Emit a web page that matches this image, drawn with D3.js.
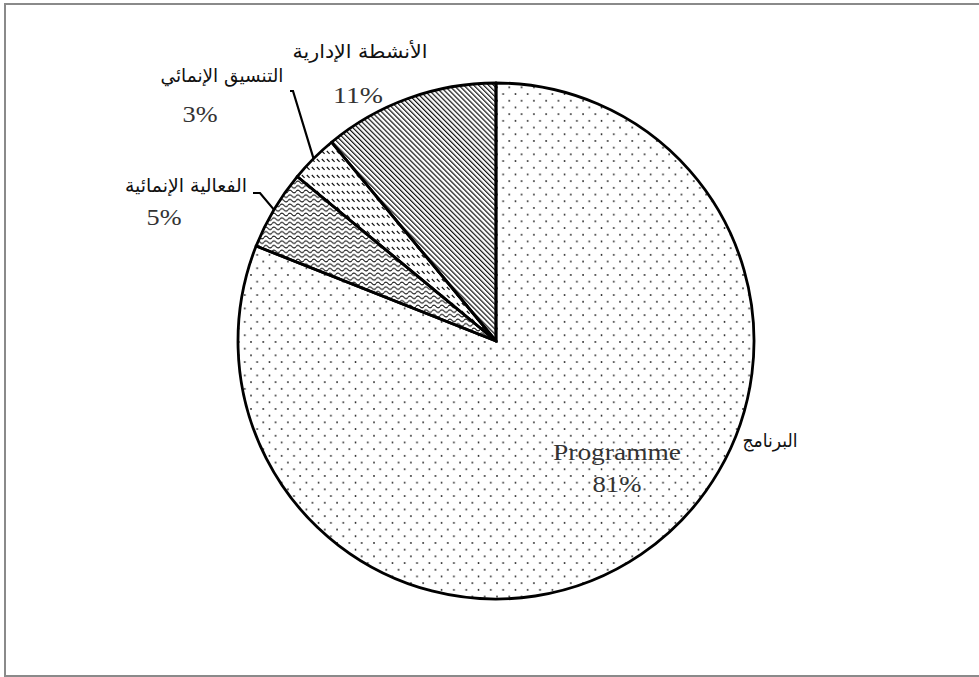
<!DOCTYPE html>
<html>
<head>
<meta charset="utf-8">
<script src="https://cdn.jsdelivr.net/npm/d3@7"></script>
<style>
  body { margin: 0; background: #fff; }
  text { font-family: "Liberation Serif", "DejaVu Serif", serif; fill: #111; }
  .ar { font-family: "DejaVu Sans", "Liberation Serif", sans-serif; }
</style>
</head>
<body>
<div id="chart"></div>
<script>
// data
var categories = ["Programme", "Development effectiveness", "Development coordination", "Management activities"];
var arabicNames = ["البرنامج", "الفعالية الإنمائية", "التنسيق الإنمائي", "الأنشطة الإدارية"];
var shares = [81, 5, 3, 11];
var percentLabels = ["81%", "5%", "3%", "11%"];

var width = 979, height = 677;
var cx = 496, cy = 341, radius = 258;

var svg = d3.select("#chart")
  .append("svg")
    .attr("width", width)
    .attr("height", height);

// frame
svg.append("rect")
  .attr("x", 5).attr("y", 4)
  .attr("width", 990).attr("height", 672)
  .style("fill", "none")
  .style("stroke", "#8a8a8a")
  .style("stroke-width", 2);

// fill patterns
var defs = svg.append("defs");

var dots = defs.append("pattern")
  .attr("id", "p-dots")
  .attr("patternUnits", "userSpaceOnUse")
  .attr("width", 12.3).attr("height", 13.4);
dots.append("circle").attr("cx", 1).attr("cy", 1).attr("r", 0.9).style("fill", "#222");
dots.append("circle").attr("cx", 7.15).attr("cy", 7.7).attr("r", 0.9).style("fill", "#222");

var wave = defs.append("pattern")
  .attr("id", "p-wave")
  .attr("patternUnits", "userSpaceOnUse")
  .attr("width", 8).attr("height", 4.6);
wave.append("path")
  .attr("d", "M0,2.3 C1.3,0.6 2.7,0.6 4,2.3 S6.7,4 8,2.3")
  .style("fill", "none").style("stroke", "#111").style("stroke-width", 1.1);

var dash = defs.append("pattern")
  .attr("id", "p-dash")
  .attr("patternUnits", "userSpaceOnUse")
  .attr("width", 5).attr("height", 8);
dash.append("line")
  .attr("x1", 0.8).attr("y1", 2).attr("x2", 3.6).attr("y2", 4.8)
  .style("stroke", "#111").style("stroke-width", 1.2);

var diag = defs.append("pattern")
  .attr("id", "p-diag")
  .attr("patternUnits", "userSpaceOnUse")
  .attr("width", 3.5).attr("height", 10)
  .attr("patternTransform", "rotate(-45)");
diag.append("line")
  .attr("x1", 0.6).attr("y1", 0).attr("x2", 0.6).attr("y2", 10)
  .style("stroke", "#111").style("stroke-width", 1.2);

var fills = d3.scaleOrdinal()
  .domain(categories)
  .range(["url(#p-dots)", "url(#p-wave)", "url(#p-dash)", "url(#p-diag)"]);

// pie
var pie = d3.pie().sort(null).value(function(d) { return d.value; });
var arcs = pie(categories.map(function(c, i) { return {key: c, value: shares[i]}; }));
var arc = d3.arc().innerRadius(0).outerRadius(radius);

var g = svg.append("g").attr("transform", "translate(" + cx + "," + cy + ")");

g.selectAll("path.slice")
  .data(arcs)
  .enter()
  .append("path")
    .attr("class", "slice")
    .attr("d", arc)
    .style("fill", function(d) { return fills(d.data.key); })
    .style("stroke", "#000")
    .style("stroke-width", 2.8)
    .style("stroke-linejoin", "round");

// label layout (offsets from pie centre, text widths)
var labelPos = [
  {ar: [274, 106], arW: 55, pct: [121, 151], pctW: 49, name: 128},
  {ar: [-310, -149], arW: 122, pct: [-332, -116], pctW: 35, elbow: [-236, -148], end: [-243, -148]},
  {ar: [-274, -259], arW: 123, pct: [-296, -219], pctW: 35, elbow: [-203, -250], end: [-206, -250]},
  {ar: [-136, -283], arW: 135, pct: [-138, -238], pctW: 50}
];

function midPoint(d, r) {
  var a = (d.startAngle + d.endAngle) / 2;
  return [Math.sin(a) * r, -Math.cos(a) * r];
}

// leader lines for the two thin slices
arcs.forEach(function(d, i) {
  var L = labelPos[i];
  if (!L.elbow) return;
  var p = midPoint(d, radius);
  g.append("path")
    .attr("d", d3.line()([p, L.elbow, L.end]))
    .style("fill", "none")
    .style("stroke", "#000")
    .style("stroke-width", 2.2);
});

arcs.forEach(function(d, i) {
  var L = labelPos[i];
  g.append("text")
    .attr("class", "ar")
    .attr("x", L.ar[0]).attr("y", L.ar[1])
    .attr("text-anchor", "middle")
    .attr("direction", "rtl")
    .attr("textLength", L.arW)
    .attr("lengthAdjust", "spacingAndGlyphs")
    .style("font-size", "19px")
    .text(arabicNames[i]);
  if (L.name) {
    g.append("text")
      .attr("x", L.pct[0]).attr("y", L.pct[1] - 32)
      .attr("text-anchor", "middle")
      .attr("textLength", L.name)
      .attr("lengthAdjust", "spacingAndGlyphs")
      .style("font-size", "24px")
      .style("fill", "#333")
      .text(categories[i]);
  }
  g.append("text")
    .attr("x", L.pct[0]).attr("y", L.pct[1])
    .attr("text-anchor", "middle")
    .attr("textLength", L.pctW)
    .attr("lengthAdjust", "spacingAndGlyphs")
    .style("font-size", "24px")
    .style("fill", "#333")
    .text(percentLabels[i]);
});
</script>
</body>
</html>
